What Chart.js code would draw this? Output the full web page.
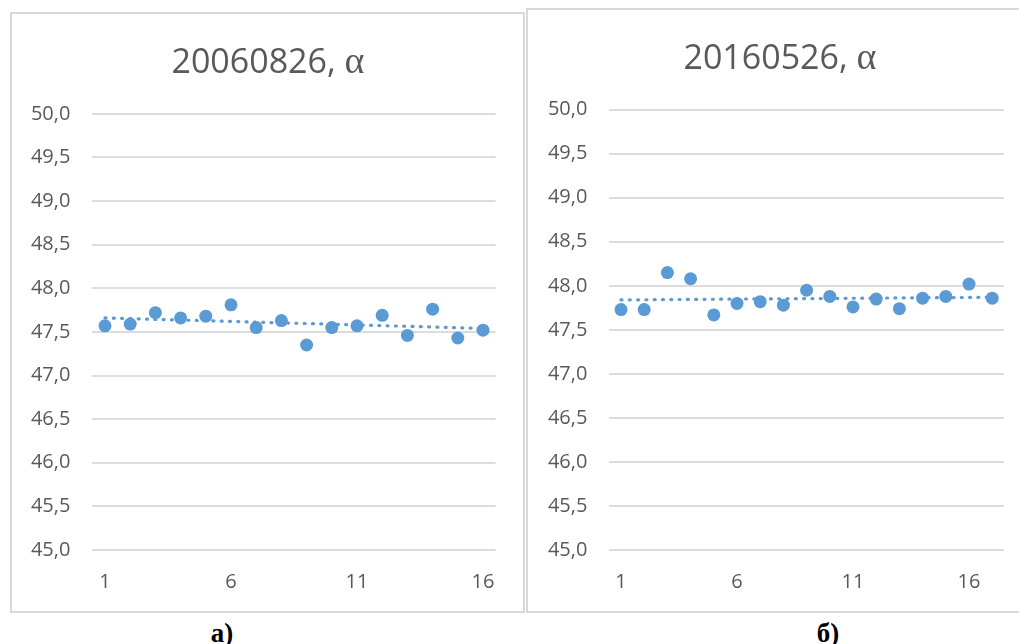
<!DOCTYPE html>
<html>
<head>
<meta charset="utf-8">
<script src="https://cdn.jsdelivr.net/npm/chart.js@4.4.1/dist/chart.umd.min.js"></script>
<style>
  html, body { margin: 0; padding: 0; background: #ffffff; }
  body { width: 1019px; height: 644px; overflow: hidden; position: relative; }
  .box { position: absolute; border: 2px solid #d9d9d9; box-sizing: border-box; background: #fff; }
  canvas { position: absolute; }
  .title { position: absolute; font-family: "Open Sans", sans-serif; font-size: 34px; color: #595959; white-space: nowrap; transform: translate(-50%, -50%); line-height: 1; }
  .title .g { font-family: "Liberation Serif", "DejaVu Serif", serif; font-size: 38px; }
  .cap { position: absolute; font-family: "Liberation Serif", serif; font-weight: bold; font-size: 27px; color: #000; transform: translateX(-50%); white-space: nowrap; line-height: 1; }
</style>
</head>
<body>
<div class="box" style="left:10px; top:12px; width:515px; height:601px;"></div>
<div class="box" style="left:526px; top:8px; width:520px; height:605px;"></div>
<canvas id="chartA" width="511" height="597" style="left:12px; top:14px;"></canvas>
<canvas id="chartB" width="491" height="602" style="left:528px; top:10px;"></canvas>
<div class="title" id="titleA" style="left:268px; top:60px;"></div>
<div class="title" id="titleB" style="left:780px; top:56px;"></div>
<div class="cap" id="capA" style="left:222px; top:620px;"></div>
<div class="cap" id="capB" style="left:828px; top:620px;"></div>
<script>
// ---- Data ----
const titleTextA = "20060826, ";
const titleTextB = "20160526, ";
const titleSymbol = "α";
const captionA = "а)";
const captionB = "б)";

const xA = [1, 2, 3, 4, 5, 6, 7, 8, 9, 10, 11, 12, 13, 14, 15, 16];
const valuesA = [47.57, 47.59, 47.72, 47.66, 47.68, 47.81, 47.55, 47.63, 47.35, 47.55, 47.57, 47.69, 47.46, 47.76, 47.43, 47.52];
const trendXA = [1, 16];
const trendYA = [47.66, 47.54];
const xTicksA = [1, 6, 11, 16];

const xB = [1, 2, 3, 4, 5, 6, 7, 8, 9, 10, 11, 12, 13, 14, 15, 16, 17];
const valuesB = [47.73, 47.73, 48.15, 48.08, 47.67, 47.80, 47.82, 47.78, 47.95, 47.88, 47.76, 47.85, 47.74, 47.86, 47.88, 48.02, 47.86];
const trendXB = [1, 17];
const trendYB = [47.84, 47.87];
const xTicksB = [1, 6, 11, 16];

const yMin = 45.0, yMax = 50.0, yStep = 0.5;

// ---- Text ----
function setTitle(el, txt) {
  el.textContent = txt;
  const s = document.createElement('span');
  s.className = 'g';
  s.textContent = titleSymbol;
  el.appendChild(s);
}
setTitle(document.getElementById('titleA'), titleTextA);
setTitle(document.getElementById('titleB'), titleTextB);
document.getElementById('capA').textContent = captionA;
document.getElementById('capB').textContent = captionB;

// ---- Charts ----
const BLUE = '#5b9bd5';
const TEXT = '#595959';
const GRID = '#dcdcdc';

function makeChart(id, xs, ys, tx, ty, xTicks, xMaxCat, lay) {
  const pts = xs.map((x, i) => ({ x: x, y: ys[i] }));
  const trend = tx.map((x, i) => ({ x: x, y: ty[i] }));
  return new Chart(document.getElementById(id), {
    type: 'scatter',
    data: {
      datasets: [
        { data: pts, backgroundColor: BLUE, borderWidth: 0, pointRadius: 6.5, pointHoverRadius: 6.5 },
        { data: trend, showLine: true, borderColor: BLUE, borderWidth: 3.2, borderDash: [1, 7.3], borderCapStyle: 'round', pointRadius: 0, fill: false }
      ]
    },
    options: {
      responsive: false,
      animation: false,
      devicePixelRatio: 1,
      layout: { padding: { top: lay.top, right: lay.right, left: 0, bottom: 0 } },
      plugins: { legend: { display: false }, tooltip: { enabled: false }, title: { display: false } },
      scales: {
        x: {
          type: 'linear',
          min: 0.5,
          max: xMaxCat + 0.5,
          afterBuildTicks: s => { s.ticks = xTicks.map(v => ({ value: v })); },
          afterFit: s => { s.height = lay.xh; },
          grid: { display: false, drawTicks: false },
          border: { display: false },
          ticks: { color: TEXT, font: { family: 'Open Sans', size: 20 }, padding: lay.xpad, autoSkip: false, maxRotation: 0, callback: v => String(v) }
        },
        y: {
          min: yMin,
          max: yMax,
          afterFit: s => { s.width = lay.yw; },
          grid: { color: GRID, lineWidth: 2, drawTicks: false },
          border: { display: false },
          ticks: { stepSize: yStep, color: TEXT, font: { family: 'Open Sans', size: 20 }, padding: 22,
                   callback: v => Number(v).toFixed(1).replace('.', ',') }
        }
      }
    }
  });
}

makeChart('chartA', xA, valuesA, trendXA, trendYA, xTicksA, 16,
  { top: 99.8, right: 27.4, yw: 80.4, xh: 61, xpad: 20 });
makeChart('chartB', xB, valuesB, trendXB, trendYB, xTicksB, 17,
  { top: 99.7, right: 15.2, yw: 81.4, xh: 62, xpad: 20 });
</script>
</body>
</html>
